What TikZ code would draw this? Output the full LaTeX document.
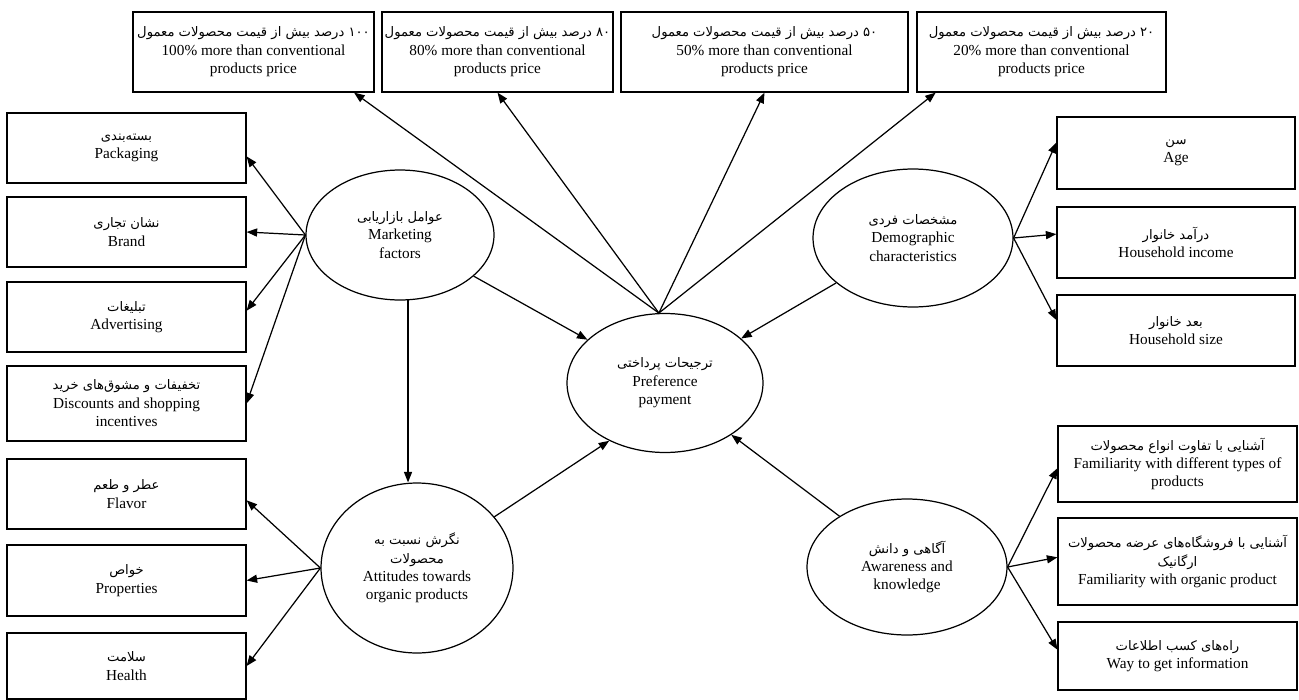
\documentclass[tikz,border=0pt]{standalone}
\usepackage{fontspec}
\setmainfont{Liberation Serif}
\newfontfamily\fafont[Script=Arabic,Scale=0.86]{DejaVu Sans}
\TeXXeTstate=1
\usetikzlibrary{shapes.geometric,arrows.meta}
\newcommand{\fa}[1]{{\fafont\beginR #1\endR}}

\begin{document}
\begin{tikzpicture}[x=0.02cm,y=-0.02cm,
    every node/.style={font=\fontsize{8.7}{10.5}\selectfont},
    box/.style={draw,rectangle,line width=0.7pt,align=center,inner sep=1pt,minimum width=4.78cm,minimum height=1.4cm},
    factor/.style={draw,ellipse,line width=0.7pt,align=center,inner sep=0pt},
    arr/.style={line width=0.7pt,-{Triangle[length=6pt,width=4.6pt]}}]
            \useasboundingbox (0,0) rectangle (1299,700);

            % Price boxes on top
            \node[box,minimum width=4.82cm,minimum height=1.6cm] (p100) at (253.5,52) {\fa{۱۰۰ درصد بیش از قیمت محصولات معمول}\\100\% more than conventional\\products price};
            \node[box,minimum width=4.62cm,minimum height=1.6cm] (p80) at (497.5,52) {\fa{۸۰ درصد بیش از قیمت محصولات معمول}\\80\% more than conventional\\products price};
            \node[box,minimum width=5.74cm,minimum height=1.6cm] (p50) at (764.5,52) {\fa{۵۰ درصد بیش از قیمت محصولات معمول}\\50\% more than conventional\\products price};
            \node[box,minimum width=4.98cm,minimum height=1.6cm] (p20) at (1041.5,52) {\fa{۲۰ درصد بیش از قیمت محصولات معمول}\\20\% more than conventional\\products price};

            % Marketing boxes
            \node[box] (pack) at (126.5,148) {\fa{بسته^^^^200cبندی}\\Packaging};
            \node[box] (brand) at (126.5,232) {\fa{نشان تجاری}\\Brand};
            \node[box] (adv) at (126.5,317) {\fa{تبلیغات}\\Advertising};
            \node[box,minimum height=1.5cm] (disc) at (126.5,403.5) {\fa{تخفیفات و مشوق^^^^200cهای خرید}\\Discounts and shopping\\incentives};

            % Attitude boxes
            \node[box] (flavor) at (126.5,494) {\fa{عطر و طعم}\\Flavor};
            \node[box,minimum height=1.42cm] (prop) at (126.5,580.5) {\fa{خواص}\\Properties};
            \node[box,minimum height=1.32cm] (health) at (126.5,666) {\fa{سلامت}\\Health};

            % Demographic boxes
            \node[box,minimum width=4.76cm,minimum height=1.44cm] (age) at (1176,153) {\fa{سن}\\Age};
            \node[box,minimum width=4.76cm,minimum height=1.42cm] (income) at (1176,242.5) {\fa{درآمد خانوار}\\Household income};
            \node[box,minimum width=4.76cm,minimum height=1.42cm] (size) at (1176,330.5) {\fa{بعد خانوار}\\Household size};

            % Awareness boxes
            \node[box,minimum height=1.52cm] (types) at (1177.5,464) {\fa{آشنایی با تفاوت انواع محصولات}\\Familiarity with different types of\\products};
            \node[box,minimum height=1.74cm] (organic) at (1177.5,561.5) {\fa{آشنایی با فروشگاه^^^^200cهای عرضه محصولات}\\\fa{ارگانیک}\\Familiarity with organic product};
            \node[box,minimum height=1.36cm] (way) at (1177.5,656) {\fa{راه^^^^200cهای کسب اطلاعات}\\Way to get information};

            % Latent factors
            \node[factor,minimum width=3.76cm,minimum height=2.6cm] (mkt) at (400,235) {\fa{عوامل بازاریابی}\\Marketing\\factors};
            \node[factor,minimum width=3.84cm,minimum height=3.4cm] (att) at (417,568) {\fa{نگرش نسبت به}\\\fa{محصولات}\\Attitudes towards\\organic products};
            \node[factor,minimum width=3.92cm,minimum height=2.78cm] (pref) at (665,383) {\fa{ترجیحات پرداختی}\\Preference\\payment};
            \node[factor,minimum width=4cm,minimum height=2.76cm] (dem) at (913,238) {\fa{مشخصات فردی}\\Demographic\\characteristics};
            \node[factor,minimum width=4cm,minimum height=2.72cm] (aw) at (907,567) {\fa{آگاهی و دانش}\\Awareness and\\knowledge};

            % Draw arrows to price boxes
            \draw[arr] (pref.95) -- (p100.-22);
            \draw[arr] (pref.95) -- (p80.south);
            \draw[arr] (pref.95) -- (p50.south);
            \draw[arr] (pref.95) -- (p20.-159);

            % Draw arrows of marketing factors
            \draw[arr] (mkt.west) -- (pack.-4);
            \draw[arr] (mkt.west) -- (brand.east);
            \draw[arr] (mkt.west) -- (adv.3);
            \draw[arr] (mkt.west) -- (disc.east);
            \draw[arr] (mkt.-83) -- (mkt.-83 |- att.north);

            % Draw arrows of attitudes
            \draw[arr] (att.west) -- (flavor.-3);
            \draw[arr] (att.west) -- (prop.east);
            \draw[arr] (att.west) -- (health.east);

            % Draw arrows of demographic characteristics
            \draw[arr] (dem.east) -- (age.175);
            \draw[arr] (dem.east) -- (income.176);
            \draw[arr] (dem.east) -- (size.175);

            % Draw arrows of awareness
            \draw[arr] (aw.east) -- (types.182);
            \draw[arr] (aw.east) -- (organic.178);
            \draw[arr] (aw.east) -- (way.177);

            % Draw arrows into preference payment
            \draw[arr] (mkt) -- (pref);
            \draw[arr] (dem) -- (pref);
            \draw[arr] (att) -- (pref.226);
            \draw[arr] (aw) -- (pref.-38);
        \end{tikzpicture}
\end{document}
